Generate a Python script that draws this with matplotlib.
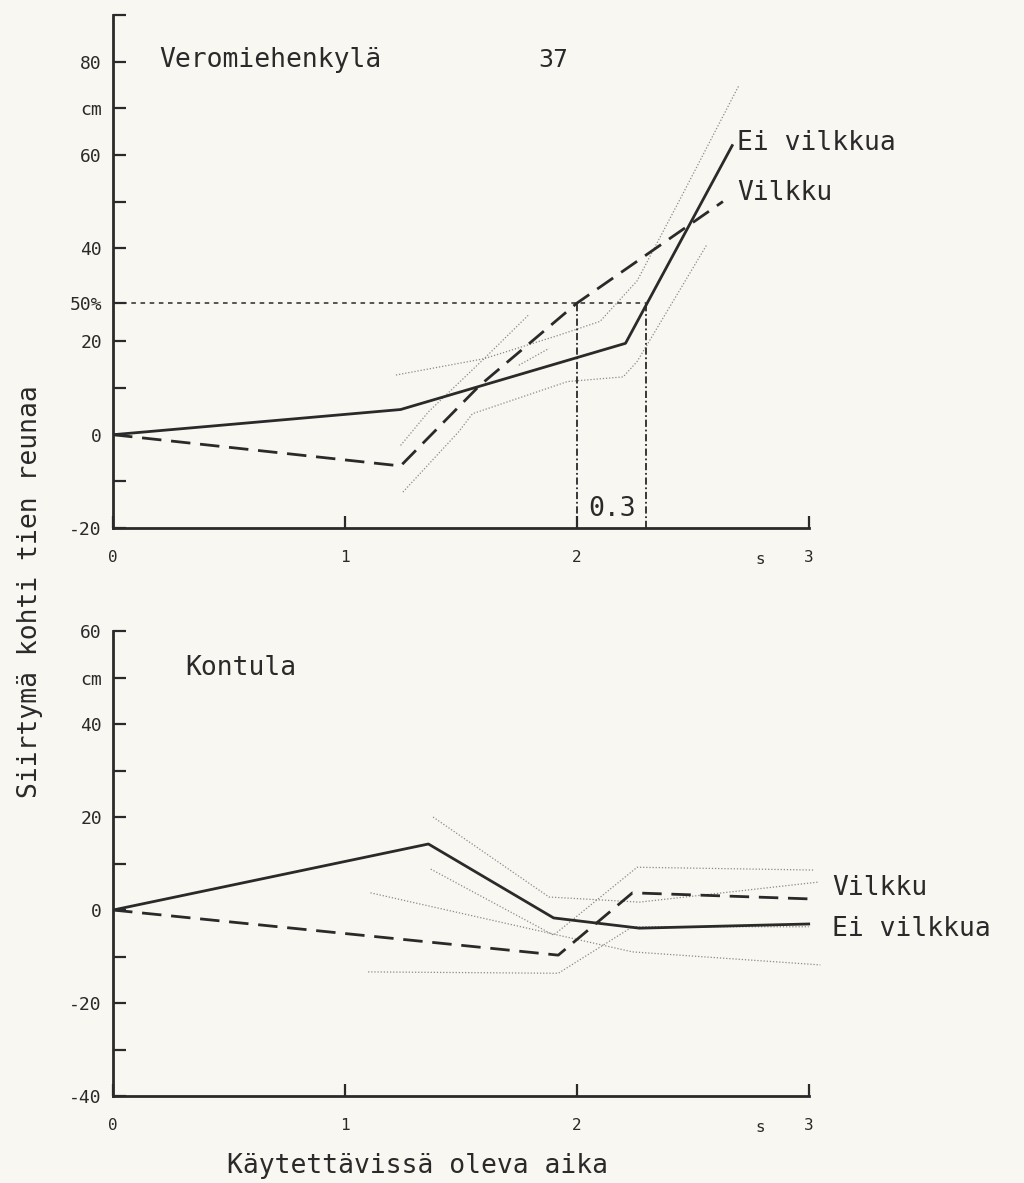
import matplotlib
matplotlib.use("Agg")
import matplotlib.pyplot as plt

FONT = "DejaVu Sans Mono"
INK = "#2a2a2a"
FAINT = "#8a8a8a"
PAPER = "#f8f7f1"

# --- Veromiehenkylä (upper panel), displacement in cm vs available time in s
vero_ei_t = [0, 1.24, 2.21, 2.67]
vero_ei = [0, 5.4, 19.6, 62.0]
vero_vil_t = [0, 1.24, 1.58, 2.0, 2.63]
vero_vil = [0, -6.7, 10.5, 28.2, 50.0]
# thin dotted spread lines
vero_bands = [
    ([1.22, 1.60, 1.92, 2.10, 2.26, 2.44, 2.70], [12.8, 16.3, 21.3, 24.3, 33.0, 50.0, 75.0]),
    ([1.25, 1.49, 1.55, 1.96, 2.20, 2.26, 2.56], [-12.3, 0.6, 4.5, 11.4, 12.4, 15.7, 40.7]),
    ([1.24, 1.36, 1.60, 1.79], [-2.3, 4.9, 16.3, 25.6]),
    ([1.75, 1.88], [14.9, 18.5]),
]
vero_half = 28.2          # 50 % level
vero_t50 = [2.0, 2.3]     # times where the curves reach it

# --- Kontula (lower panel)
kont_ei_t = [0, 1.36, 1.90, 2.27, 3.0]
kont_ei = [0, 14.2, -1.7, -3.9, -3.0]
kont_vil_t = [0, 1.92, 2.24, 3.0]
kont_vil = [0, -9.7, 3.7, 2.4]
kont_bands = [
    ([1.38, 1.88, 2.27, 3.04], [20.0, 2.8, 1.7, 6.0]),
    ([1.37, 1.90, 2.26, 3.02], [8.8, -5.4, 9.2, 8.6]),
    ([1.11, 2.24, 3.05], [3.7, -9.0, -11.8]),
    ([1.10, 1.92, 2.24, 3.00], [-13.3, -13.6, -3.6, -3.6]),
]

vero_yticks = [-20, -10, 0, 10, 20, vero_half, 40, 50, 60, 70, 80, 90]
vero_ylabels = ["-20", "", "0", "", "20", "50%", "40", "", "60", "cm", "80", ""]
kont_yticks = [-40, -30, -20, -10, 0, 10, 20, 30, 40, 50, 60]
kont_ylabels = ["-40", "", "-20", "", "0", "", "20", "", "40", "cm", "60"]
xticks = [0, 1, 2, 3]

plt.rcParams["font.family"] = [FONT, "DejaVu Sans"]
BIG = 19


def frame(ax, ylim, yticks, ylabels):
    ax.set_facecolor("none")
    ax.set_xlim(0, 3.1)
    ax.set_ylim(*ylim)
    for s in ("top", "right"):
        ax.spines[s].set_visible(False)
    for s in ("left", "bottom"):
        ax.spines[s].set_linewidth(2.0)
        ax.spines[s].set_color(INK)
    ax.spines["bottom"].set_bounds(0, 3)
    ax.set_yticks(yticks, ylabels)
    ax.set_xticks(xticks, [str(t) for t in xticks])
    ax.tick_params(axis="y", direction="in", length=9, width=1.6, pad=8,
                   labelsize=13, colors=INK)
    ax.tick_params(axis="x", direction="in", length=9, width=1.6, pad=16,
                   labelsize=11.5, colors=INK)
    ax.annotate("s", xy=(2.79, 0), xycoords=("data", "axes fraction"),
                xytext=(0, -23), textcoords="offset points",
                ha="center", va="center", fontsize=11.5, color=INK)


fig = plt.figure(figsize=(10.24, 11.83), dpi=100)
fig.patch.set_facecolor(PAPER)

# upper panel
ax1 = fig.add_axes([0.1104, 0.5537, 0.702, 0.4336])
frame(ax1, (-20, 90), vero_yticks, vero_ylabels)
for bx, by in vero_bands:
    ax1.plot(bx, by, ls=(0, (1, 1.5)), lw=0.9, color=FAINT)
ax1.plot(vero_ei_t, vero_ei, "-", lw=2.0, color=INK)
ax1.plot(vero_vil_t, vero_vil, ls=(0, (7, 3.5)), lw=2.0, color=INK)
ax1.plot([0, vero_t50[1]], [vero_half, vero_half], ls=(0, (3, 3)), lw=1.1, color=INK)
for t in vero_t50:
    ax1.plot([t, t], [-20, vero_half], ls=(0, (4, 1.5, 1, 1.5)), lw=1.3, color=INK)
ax1.text(sum(vero_t50) / 2, -16, "0.3", ha="center", va="center", fontsize=BIG, color=INK)
ax1.text(0.2, 80.4, "Veromiehenkylä", ha="left", va="center", fontsize=BIG, color=INK)
ax1.text(1.9, 80.4, "37", ha="center", va="center", fontsize=17, color=INK,
         family="DejaVu Sans")
ax1.text(2.69, 62.6, "Ei vilkkua", ha="left", va="center", fontsize=BIG, color=INK)
ax1.text(2.69, 51.8, "Vilkku", ha="left", va="center", fontsize=BIG, color=INK)

# lower panel
ax2 = fig.add_axes([0.1104, 0.0735, 0.702, 0.3931])
frame(ax2, (-40, 60), kont_yticks, kont_ylabels)
for bx, by in kont_bands:
    ax2.plot(bx, by, ls=(0, (1, 1.5)), lw=0.9, color=FAINT)
ax2.plot(kont_ei_t, kont_ei, "-", lw=2.0, color=INK)
ax2.plot(kont_vil_t, kont_vil, ls=(0, (7, 3.5)), lw=2.0, color=INK)
ax2.text(0.31, 52, "Kontula", ha="left", va="center", fontsize=BIG, color=INK)
ax2.text(3.1, 4.7, "Vilkku", ha="left", va="center", fontsize=BIG, color=INK,
         clip_on=False)
ax2.text(3.1, -4.0, "Ei vilkkua", ha="left", va="center", fontsize=BIG, color=INK,
         clip_on=False)

fig.text(0.029, 0.50, "Siirtymä kohti tien reunaa", rotation=90,
         ha="center", va="center", fontsize=BIG, color=INK)
fig.text(0.408, 0.0144, "Käytettävissä oleva aika", ha="center", va="center",
         fontsize=BIG, color=INK)

fig.savefig("out.png", dpi=100, facecolor=PAPER)
